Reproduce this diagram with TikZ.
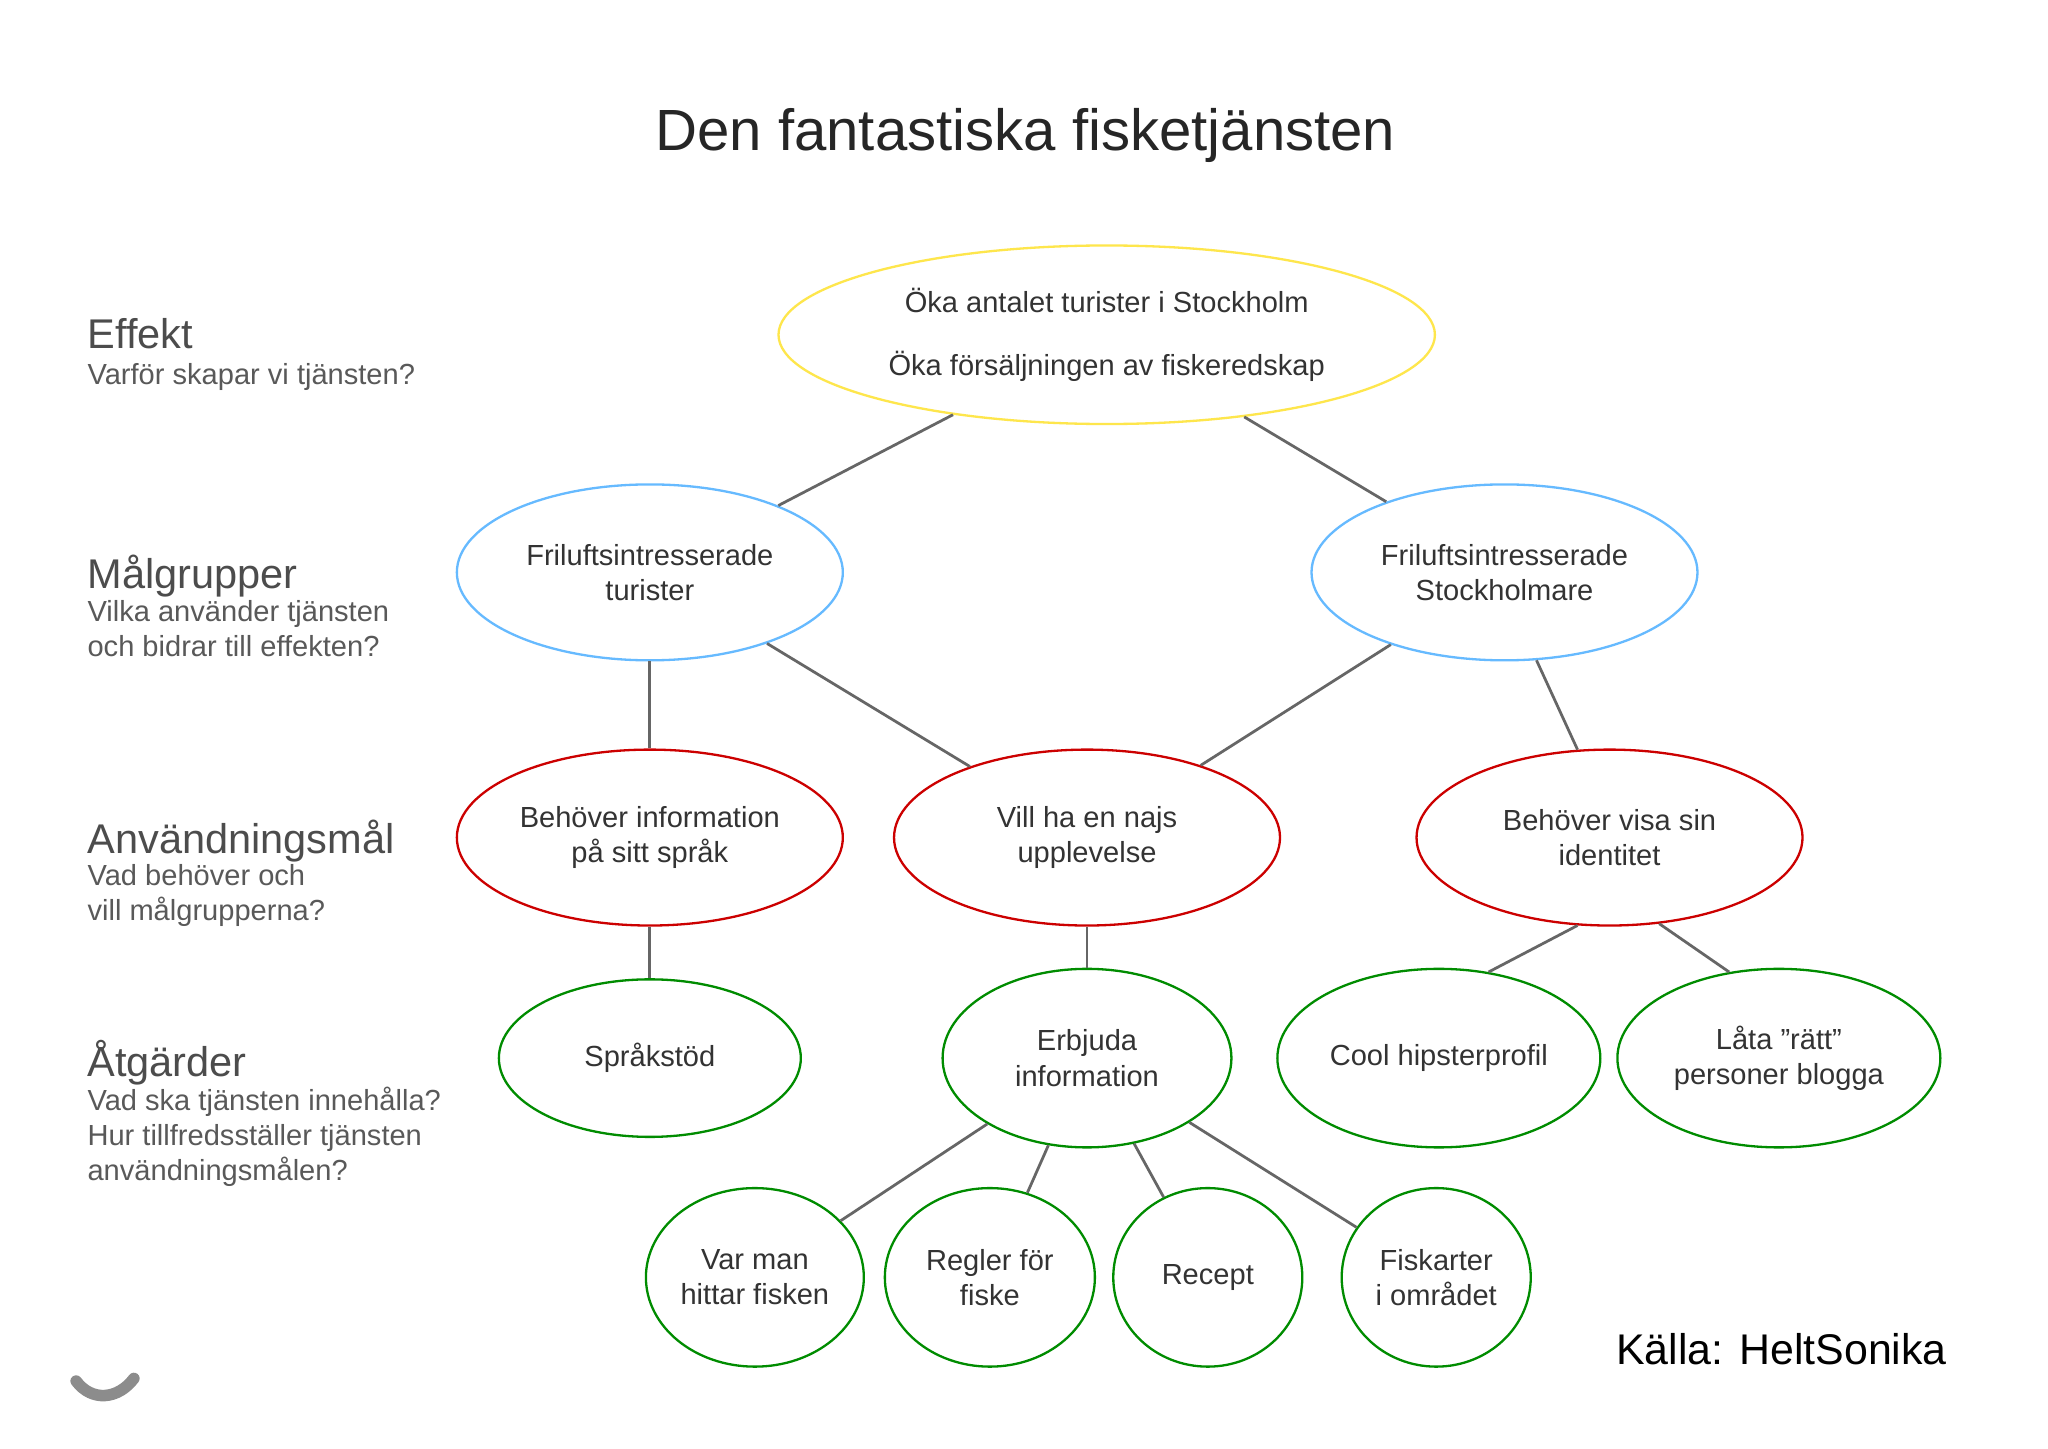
\documentclass[tikz,border=0pt]{standalone}
\usepackage{fontspec}
\setmainfont{Liberation Sans}
\usetikzlibrary{shapes.geometric}
\begin{document}
\begin{tikzpicture}[x=0.1mm,y=-0.1mm,
  el/.style={ellipse,draw,line width=0.5pt,align=center,inner sep=0pt,font=\fontsize{6.3}{7.6}\selectfont,text=black!80},
  ylw/.style={el,draw=yellow!80!orange!70},
  blu/.style={el,draw=blue!45!cyan!60},
  rd/.style={el,draw=red!80!black},
  grn/.style={el,draw=green!55!black},
  ln/.style={draw=black!60,line width=0.6pt},
  hd/.style={anchor=north west,inner sep=0pt,font=\fontsize{9}{11}\selectfont,text=black!70},
  sb/.style={anchor=north west,inner sep=0pt,align=left,font=\fontsize{6.3}{7.6}\selectfont,text=black!65}]
\useasboundingbox[fill=white] (0,0) rectangle (1560,1103);
\node[font=\fontsize{12.6}{15}\selectfont,text=black!85] (title) at (781,103) {Den fantastiska fisketjänsten};
\node[ylw,minimum width=50mm,minimum height=13.6mm] (top) at (843,255) {Öka antalet turister i Stockholm\\[6pt]Öka försäljningen av fiskeredskap};
\node[blu,minimum width=29.4mm,minimum height=13.4mm] (bl) at (495,436) {Friluftsintresserade\\turister};
\node[blu,minimum width=29.4mm,minimum height=13.4mm] (br) at (1146,436) {Friluftsintresserade\\Stockholmare};
\node[rd,minimum width=29.4mm,minimum height=13.4mm] (r1) at (495,638) {Behöver information\\på sitt språk};
\node[rd,minimum width=29.4mm,minimum height=13.4mm] (r2) at (828,638) {Vill ha en najs\\upplevelse};
\node[rd,minimum width=29.4mm,minimum height=13.4mm] (r3) at (1226,638) {Behöver visa sin\\identitet};
\node[grn,minimum width=23mm,minimum height=12mm] (g1) at (495,806) {Språkstöd};
\node[grn,minimum width=22mm,minimum height=13.6mm] (g2) at (828,806) {Erbjuda\\information};
\node[grn,minimum width=24.6mm,minimum height=13.6mm] (g3) at (1096,806) {Cool hipsterprofil};
\node[grn,minimum width=24.6mm,minimum height=13.6mm] (g4) at (1355,806) {Låta \symbol{34}rätt\symbol{34}\\personer blogga};
\node[grn,minimum width=16.6mm,minimum height=13.6mm] (b1) at (575,973) {Var man\\hittar fisken};
\node[grn,minimum width=16mm,minimum height=13.6mm] (b2) at (754,973) {Regler för\\fiske};
\node[grn,minimum width=14.4mm,minimum height=13.6mm] (b3) at (920,973) {Recept};
\node[grn,minimum width=14.4mm,minimum height=13.6mm] (b4) at (1094,973) {Fiskarter\\i området};
\draw[ln] (top) -- (bl); \draw[ln] (top) -- (br);
\draw[ln] (bl) -- (r1); \draw[ln] (bl) -- (r2);
\draw[ln] (br) -- (r2); \draw[ln] (br.-70) -- (r3.110);
\draw[ln] (r1) -- (g1); \draw[ln] (r2) -- (g2);
\draw[ln] (r3.-110) -- (g3.60); \draw[ln] (r3.-60) -- (g4.120);
\draw[ln] (g2) -- (b1); \draw[ln] (g2) -- (b2); \draw[ln] (g2) -- (b3); \draw[ln] (g2) -- (b4);
\node[hd] (h1) at (66,242) {Effekt};
\node[sb] (s1) at (66,276) {Varför skapar vi tjänsten?};
\node[hd] (h2) at (66,422) {Målgrupper};
\node[sb] (s2) at (66,457) {Vilka använder tjänsten\\och bidrar till effekten?};
\node[hd] (h3) at (66,624) {Användningsmål};
\node[sb] (s3) at (66,658) {Vad behöver och\\vill målgrupperna?};
\node[hd] (h4) at (66,792) {Åtgärder};
\node[sb] (s4) at (66,827) {Vad ska tjänsten innehålla?\\Hur tillfredsställer tjänsten\\användningsmålen?};
\node[font=\fontsize{9.3}{11}\selectfont] (src) at (1357,1028) {Källa: HeltSonika};
\draw[black!45,line width=2.5pt,line cap=round] (58,1052) .. controls (70,1068) and (90,1066) .. (102,1050);
\end{tikzpicture}
\end{document}
